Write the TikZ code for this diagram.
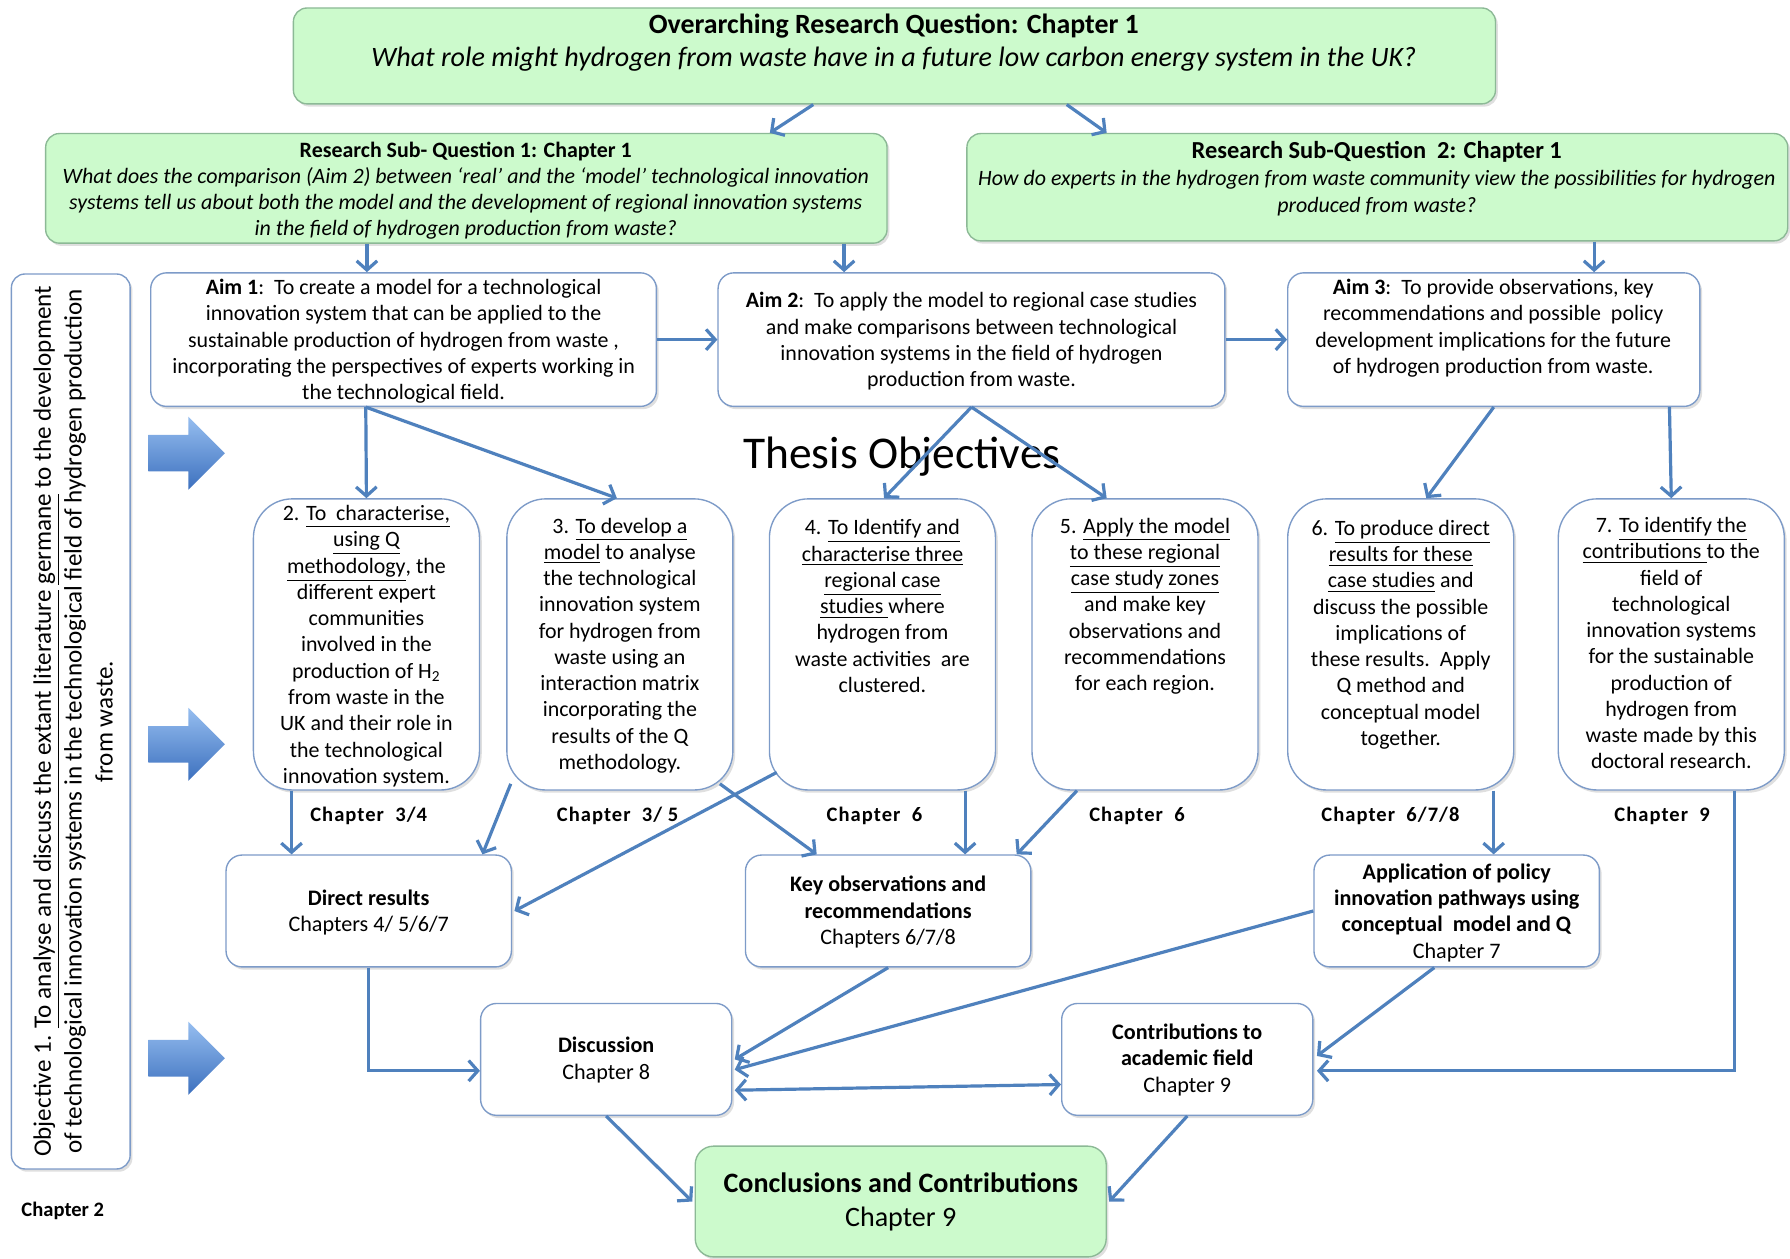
\documentclass[tikz,border=0pt]{standalone}
\usepackage{fontspec}
\setmainfont{Carlito}
\newfontfamily\chapfont[LetterSpace=5]{Carlito}
\usetikzlibrary{arrows.meta,calc,fit,shadows}
\definecolor{arrblue}{RGB}{79,129,189}
\definecolor{boxline}{RGB}{125,155,200}
\definecolor{greenfill}{RGB}{204,250,204}
\definecolor{greenline}{RGB}{140,185,150}
\definecolor{blkdark}{RGB}{60,112,190}
\definecolor{blklight}{RGB}{150,190,240}
\begin{document}
\begin{tikzpicture}[x=0.5pt,y=-0.5pt,
  >={Straight Barb[length=4pt,width=9pt]},
  box/.style={draw=boxline, line width=0.6pt, fill=white, inner sep=0pt,
    drop shadow={shadow xshift=1pt,shadow yshift=-1.2pt,opacity=0.25}},
  rbox/.style={box, rounded corners=7pt},
  obox/.style={box, rounded corners=17pt},
  gbox/.style={box, draw=greenline, fill=greenfill, rounded corners=6pt},
  txt/.style={align=center, inner sep=0pt, font=\fontsize{9.6}{11.5}\selectfont},
  btxt/.style={txt, font=\fontsize{9.7}{11.5}\selectfont},
  chap/.style={inner sep=0pt, font=\fontsize{9}{11}\selectfont\chapfont\bfseries},
  arr/.style={draw=arrblue, line width=1.4pt, ->},
  arrb/.style={draw=arrblue, line width=1.4pt, <->},
]
\fill[white] (0,0) rectangle (1568,1102);
\useasboundingbox (0,0) rectangle (1568,1102);

% ---- top green boxes
\node[gbox, fit={(257,7)(1310,91)}] (top) {};
\node[txt, font=\fontsize{12.2}{13}\selectfont\bfseries] (topT) at (783,23) {Overarching Research Question: Chapter 1};
\node[txt, font=\fontsize{12.3}{13}\selectfont\itshape] (topQ) at (783,52) {What role might hydrogen from waste have in a future low carbon energy system in the UK?};

\node[gbox, fit={(40,117)(777,213)}] (sq1) {};
\node[txt] (sq1t) at (408,167) {\textbf{Research Sub- Question 1: Chapter 1}\\
\textit{What does the comparison (Aim 2) between `real' and the `model' technological innovation}\\
\textit{systems tell us about both the model and the development of regional innovation systems}\\
\textit{in the field of hydrogen production from waste?}};

\node[gbox, fit={(847,117)(1566,211)}] (sq2) {};
\node[txt, font=\fontsize{9.6}{11.7}\selectfont] (sq2t) at (1206,156.5) {{\fontsize{10.7}{11.7}\selectfont\textbf{Research Sub-Question\ \ 2: Chapter 1}}\\
\textit{How do experts in the hydrogen from waste community view the possibilities for hydrogen}\\
\textit{produced from waste?}};

% ---- aims
\node[rbox, fit={(132,239)(575,356)}] (a1) {};
\node[txt] (a1t) at (353.5,299) {\textbf{Aim 1}:\ \ To create a model for a technological\\
innovation system that can be applied to the\\
sustainable production of hydrogen from waste ,\\
incorporating the perspectives of experts working in\\
the technological field.};
\node[rbox, fit={(629,239)(1073,356)}] (a2) {};
\node[txt] (a2t) at (851,299) {\textbf{Aim 2}:\ \ To apply the model to regional case studies\\
and make comparisons between technological\\
innovation systems in the field of hydrogen\\
production from waste.};
\node[rbox, fit={(1128,239)(1489,356)}] (a3) {};
\node[txt] (a3t) at (1308,287.5) {\textbf{Aim 3}:\ \ To provide observations, key\\
recommendations and possible\ \ policy\\
development implications for the future\\
of hydrogen production from waste.};

% ---- objective 1 (vertical)
\node[rbox, rounded corners=6pt, fit={(10,240)(114,1024)}] (ob1) {};
\node[txt, rotate=90, font=\fontsize{11}{13.5}\selectfont] (ob1t) at (64,632) {Objective 1. \underline{To analyse and discuss the extant literature} \underline{germane} to the development\\
of technological innovation systems in the technological field of hydrogen production\\
from waste.};
\node[inner sep=0pt, font=\fontsize{9}{11}\selectfont\bfseries] (ch2) at (55,1061) {Chapter 2};

% ---- block arrows
\foreach \yy in {397,652,927}{
  \shade[top color=blklight, bottom color=blkdark]
    (130,\yy-16) -- (165,\yy-16) -- (165,\yy-32) -- (197,\yy) -- (165,\yy+32) -- (165,\yy+16) -- (130,\yy+16) -- cycle;
}

\node[inner sep=0pt, font=\fontsize{19.9}{21}\selectfont] (thesis) at (790,400) {Thesis Objectives};

% ---- objective boxes
\node[obox, fit={(222,437)(420,692)}] (o2) {};
\node[obox, fit={(444,437)(642,692)}] (o3) {};
\node[obox, fit={(674,437)(872,692)}] (o4) {};
\node[obox, fit={(904,437)(1102,692)}] (o5) {};
\node[obox, fit={(1128,437)(1326,692)}] (o6) {};
\node[obox, fit={(1365,437)(1563,692)}] (o7) {};

\node[txt] (o2t) at (321,566) {2. \underline{To\ \ characterise,}\\
\underline{using Q}\\
\underline{methodology}, the\\
different expert\\
communities\\
involved in the\\
production of H\textsubscript{2}\\
from waste in the\\
UK and their role in\\
the technological\\
innovation system.};
\node[txt] (o3t) at (543,565.5) {3. \underline{To develop a}\\
\underline{model} to analyse\\
the technological\\
innovation system\\
for hydrogen from\\
waste using an\\
interaction matrix\\
incorporating the\\
results of the Q\\
methodology.};
\node[txt] (o4t) at (773,531) {4. \underline{To Identify and}\\
\underline{characterise three}\\
\underline{regional case}\\
\underline{studies }where\\
hydrogen from\\
waste activities\ \ are\\
clustered.};
\node[txt] (o5t) at (1003,531) {5. \underline{Apply the model}\\
\underline{to these regional}\\
\underline{case study zones}\\
and make key\\
observations and\\
recommendations\\
for each region.};
\node[txt] (o6t) at (1227,556) {6. \underline{To produce direct}\\
\underline{results for these}\\
\underline{case studies} and\\
discuss the possible\\
implications of\\
these results.\ \ Apply\\
Q method and\\
conceptual model\\
together.};
\node[txt] (o7t) at (1464,563.5) {7. \underline{To identify the}\\
\underline{contributions }to the\\
field of\\
technological\\
innovation systems\\
for the sustainable\\
production of\\
hydrogen from\\
waste made by this\\
doctoral research.};

\node[chap] (c2) at (323,715) {Chapter\ \ 3/4};
\node[chap] (c3) at (541,715) {Chapter\ \ 3/ 5};
\node[chap] (c4) at (766,715) {Chapter\ \ 6};
\node[chap] (c5) at (996,715) {Chapter\ \ 6};
\node[chap] (c6) at (1218,715) {Chapter\ \ 6/7/8};
\node[chap] (c7) at (1456,715) {Chapter\ \ 9};

% ---- result boxes
\node[rbox, fit={(198,749)(448,847)}] (dr) {};
\node[btxt] (drt) at (323,799.5) {\textbf{Direct results}\\ Chapters 4/ 5/6/7};
\node[rbox, fit={(653,749)(903,847)}] (ko) {};
\node[btxt] (kot) at (778,799) {\textbf{Key observations and}\\ \textbf{recommendations}\\ Chapters 6/7/8};
\node[rbox, fit={(1151,749)(1401,847)}] (ap) {};
\node[btxt] (apt) at (1276,799.5) {\textbf{Application of policy}\\ \textbf{innovation pathways using}\\ \textbf{conceptual\ \ model and Q}\\ Chapter 7};
\node[rbox, fit={(421,879)(641,977)}] (di) {};
\node[btxt] (dit) at (531,928.5) {\textbf{Discussion}\\ Chapter 8};
\node[rbox, fit={(930,879)(1150,977)}] (co) {};
\node[btxt] (cot) at (1040,928.5) {\textbf{Contributions to}\\ \textbf{academic field}\\ Chapter 9};
\node[gbox, rounded corners=8pt, fit={(609,1004)(969,1101)}] (cc) {};
\node[txt, font=\fontsize{12.3}{15}\selectfont] (cct) at (789,1053) {\textbf{Conclusions and Contributions}\\ Chapter 9};

% ---- connectors
\draw[arr] ($(top.south west)+(456,0)$) -- ($(sq1.north west)+(635,0)$);
\draw[arr] ($(top.south west)+(678,0)$) -- ($(sq2.north west)+(123,0)$);
\draw[arr] ($(sq1.south west)+(282,0)$) -- ($(a1.north west)+(190,0)$);
\draw[arr] ($(sq1.south west)+(700,0)$) -- ($(a2.north west)+(111,0)$);
\draw[arr] ($(sq2.south west)+(550,0)$) -- ($(a3.north west)+(269,0)$);
\draw[arr] (a1.east) -- (a2.west);
\draw[arr] (a2.east) -- (a3.west);
\draw[arr] ($(a1.south west)+(189,0)$) -- (o2.north);
\draw[arr] ($(a1.south west)+(189,0)$) -- ($(o3.north west)+(97,0)$);
\draw[arr] (a2.south) -- ($(o4.north west)+(101,0)$);
\draw[arr] (a2.south) -- ($(o5.north west)+(66,0)$);
\draw[arr] (a3.south) -- ($(o6.north west)+(122,0)$);
\draw[arr] ($(a3.south west)+(335,0)$) -- (o7.north);
\draw[arr] ($(o2.south west)+(34,0)$) -- ($(dr.north west)+(58,0)$);
\draw[arr] ($(o3.south west)+(4,-6)$) -- ($(dr.north east)+(-26,0)$);
\draw[arr] ($(o4.south west)+(7,-16)$) -- ($(dr.east)+(2,0)$);
\draw[arr] ($(o3.south east)+(-12,-6)$) -- ($(ko.north west)+(63,0)$);
\draw[arr] ($(o4.south west)+(172,0)$) -- ($(ko.north west)+(193,0)$);
\draw[arr] ($(o5.south west)+(40,0)$) -- ($(ko.north east)+(-13,0)$);
\draw[arr] ($(o6.south west)+(181,0)$) -- ($(ap.north west)+(158,0)$);
\draw[arr] (dr.south) |- ($(di.west)+(0,10)$);
\draw[arr] (ko.south) -- ($(di.east)+(2,0)$);
\draw[arr] (ap.west) -- ($(di.east)+(2,9)$);
\draw[arrb] ($(di.east)+(2,27)$) -- ($(co.west)+(0,22)$);
\draw[arr] ($(ap.south west)+(106,0)$) -- ($(co.east)+(3,-3)$);
\draw[arr] ($(o7.south west)+(155,0)$) |- ($(co.east)+(3,10)$);
\draw[arr] (di.south) -- ($(cc.west)+(-2,0)$);
\draw[arr] (co.south) -- ($(cc.east)+(2,0)$);
\end{tikzpicture}
\end{document}
